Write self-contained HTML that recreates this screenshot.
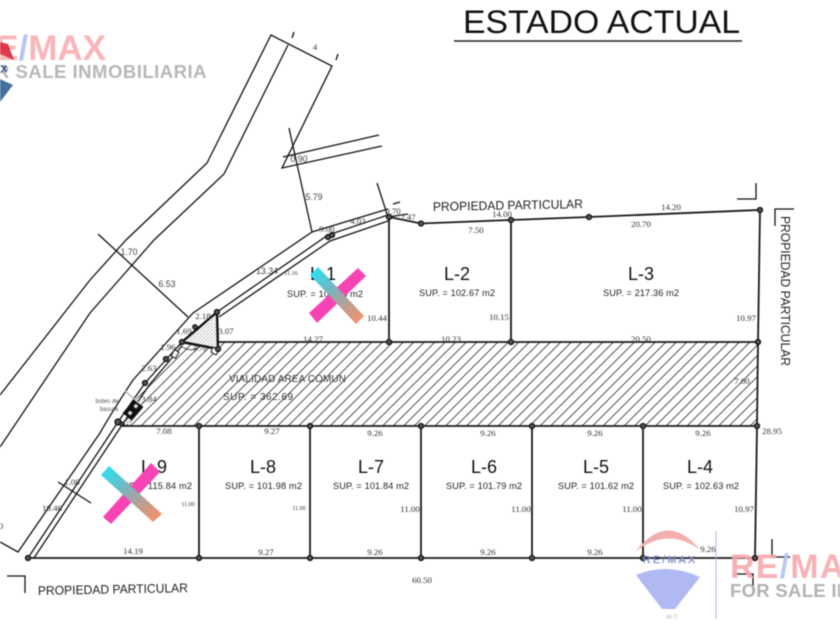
<!DOCTYPE html>
<html>
<head>
<meta charset="utf-8">
<style>
html,body{margin:0;padding:0;background:#fff;width:840px;height:630px;overflow:hidden}
svg{display:block;filter:blur(.4px)}
.l{fill:none;stroke:#111;stroke-width:1.3;stroke-linejoin:miter}
.b{fill:none;stroke:#1a1a1a;stroke-width:1.8}
.n{fill:#333;font:8.8px "Liberation Serif",serif;text-anchor:middle;dominant-baseline:central}
.m{fill:#444;font:8.8px "Liberation Sans",sans-serif;text-anchor:middle;dominant-baseline:central}
.big{fill:#111;font:18px "Liberation Sans",sans-serif;text-anchor:middle}
.sup{fill:#222;font:9.2px "Liberation Sans",sans-serif}
.pp{fill:#222;font:12.6px "Liberation Sans",sans-serif}
circle{fill:#555;stroke:#111;stroke-width:1.3}
</style>
</head>
<body>
<svg width="840" height="630" viewBox="0 0 840 630" xmlns="http://www.w3.org/2000/svg">
<defs>
<pattern id="h" width="10.5" height="10.5" patternUnits="userSpaceOnUse">
<path d="M-1 11.5L11.5 -1M-2 2L2 -2M8.5 12.5L12.5 8.5" stroke="#333" stroke-width=".8" fill="none"/>
</pattern>
<pattern id="h2" width="3.5" height="3.5" patternUnits="userSpaceOnUse">
<path d="M-1 4.5L4.5 -1" stroke="#aaa" stroke-width=".7" fill="none"/>
</pattern>
<linearGradient id="g1" gradientUnits="userSpaceOnUse" x1="314" y1="271" x2="360" y2="320">
<stop offset="0" stop-color="#2adff2"/><stop offset=".5" stop-color="#93a8ad"/><stop offset="1" stop-color="#f4926c"/>
</linearGradient>
<linearGradient id="g2" gradientUnits="userSpaceOnUse" x1="105" y1="470" x2="157" y2="518">
<stop offset="0" stop-color="#2adff2"/><stop offset=".5" stop-color="#93a8ad"/><stop offset="1" stop-color="#f4926c"/>
</linearGradient>
</defs>

<!-- title -->
<text x="463" y="33" font-family="Liberation Sans" font-size="32" fill="#111" textLength="277" lengthAdjust="spacingAndGlyphs">ESTADO ACTUAL</text>
<line x1="454" y1="41" x2="742" y2="41" stroke="#222" stroke-width="1.5"/>

<!-- hatch -->
<polygon points="217,342 758,342 757,426 122,426 145,383 182,342" fill="url(#h)"/>
<polygon points="182,342 217,312 218,349" fill="#fff"/>
<polygon points="182,342 217,312 218,349" fill="url(#h2)"/>

<!-- road -->
<path class="l" d="M0 395 L90 280 L126 240 L207 163 L271 35 L332 66 L282 168 L382 146"/>
<path class="l" d="M0 447 L90 313 L154 240 L224 174 L288 45"/>
<path class="l" d="M283 157 L379 135"/>
<path class="l" d="M289 128 L312 232"/>
<path class="l" d="M294 32 L292 38M338 54 L336 60"/>
<path class="l" d="M377 183 L388 217"/>
<path class="l" d="M0 542 L18 552 L100 433 Q112 412 133 380 L193 313 L312 232 L388 209"/>
<path class="l" d="M98 234 L188 317"/>
<path class="l" d="M58 482 L91 503"/>
<path class="l" d="M28 558 L118 422 L145 383 L182 342"/>
<path class="l" d="M34 558 L122 425 L150 384 L182 346"/>
<path class="l" d="M217 312 L328 235 L388 215"/>
<path class="l" d="M219 317 L330 241 L388 221"/>
<path class="l" d="M393 204 L400 202M388 217 L408 214"/>

<!-- lot lines -->
<path class="b" d="M389 217 L421 223.5 L511 220 L589 217 L760 210 L758 342 L757 426 L755 558 L28 558"/>
<path class="b" d="M217 342 H758M122 426 H757"/>
<path class="b" d="M389 217 V342M511 220 V342M199 426 V558M310 426 V558M421 426 V558M532 426 V558M643 426 V558"/>

<!-- triangle -->
<path d="M182 342 L217 312 L218 349 Z" fill="none" stroke="#111" stroke-width="2.4"/>
<path d="M182 342 L208 347" stroke="#111" stroke-width="2.4"/>
<path d="M180 345 Q190 354 201 346" fill="none" stroke="#222" stroke-width=".8"/>
<rect x="172.500" y="350.500" width="5" height="7" transform="rotate(30 175 354)" fill="#fff" stroke="#111" stroke-width="1"/>
<path d="M213 347 L219 350 L216 355 L211 352 Z" fill="#fff" stroke="#111"/>

<!-- bin -->
<g transform="rotate(-50 133 410)">
<rect x="124" y="404" width="18" height="12" fill="#111"/>
<rect x="127" y="408" width="3.500" height="3.500" fill="#ddd"/>
<rect x="136" y="408" width="3.500" height="3.500" fill="#ddd"/>
</g>
<line x1="125" y1="391" x2="140" y2="404" stroke="#bbb" stroke-width="1.500"/>

<!-- nodes -->
<g>
<circle cx="389" cy="217" r="2.500"/><circle cx="421" cy="223.500" r="2.500"/><circle cx="511" cy="220" r="2.500"/><circle cx="589" cy="217" r="2.500"/><circle cx="760" cy="210" r="2.500"/>
<circle cx="389" cy="342" r="2.500"/><circle cx="511" cy="342" r="2.500"/><circle cx="758" cy="342" r="2.500"/>
<circle cx="199" cy="426" r="2.500"/><circle cx="310" cy="426" r="2.500"/><circle cx="421" cy="426" r="2.500"/><circle cx="532" cy="426" r="2.500"/><circle cx="643" cy="426" r="2.500"/><circle cx="757" cy="426" r="2.500"/>
<circle cx="28" cy="558" r="2.500"/><circle cx="199" cy="558" r="2.500"/><circle cx="310" cy="558" r="2.500"/><circle cx="421" cy="558" r="2.500"/><circle cx="532" cy="558" r="2.500"/><circle cx="643" cy="558" r="2.500"/><circle cx="755" cy="558" r="2.500"/>
<circle cx="118" cy="422" r="3"/><circle cx="122" cy="424" r="2"/>
<circle cx="217" cy="312" r="2.500"/><circle cx="182" cy="342" r="2.500"/><circle cx="218" cy="349" r="2.500"/><circle cx="195" cy="327" r="2.200"/>
<circle cx="145" cy="383" r="2.500"/><circle cx="166" cy="359" r="2.500"/><circle cx="328" cy="237" r="2.500"/><circle cx="332" cy="235" r="2.500"/>
</g>

<!-- corner marks -->
<path class="l" d="M737 199 H756 V183"/>
<path class="l" d="M794 209 H775 V226"/>
<path class="l" d="M7 576 H25 V593"/>
<path class="l" d="M772 539 V557 H790"/>
<path class="l" d="M734 574 H753 V592"/>

<!-- property labels -->
<text class="pp" x="433" y="211" textLength="150" lengthAdjust="spacingAndGlyphs" transform="rotate(-1.100 433 211)">PROPIEDAD PARTICULAR</text>
<text class="pp" x="38" y="595" textLength="150" lengthAdjust="spacingAndGlyphs" transform="rotate(-1.100 38 595)">PROPIEDAD PARTICULAR</text>
<text class="pp" x="0" y="0" textLength="150" lengthAdjust="spacingAndGlyphs" transform="translate(781 216) rotate(90)">PROPIEDAD PARTICULAR</text>

<!-- lots -->
<text class="big" x="323" y="280">L-1</text>
<text class="big" x="457" y="280">L-2</text>
<text class="big" x="641" y="280">L-3</text>
<text class="big" x="154" y="473">L-9</text>
<text class="big" x="263" y="473">L-8</text>
<text class="big" x="371" y="473">L-7</text>
<text class="big" x="484" y="473">L-6</text>
<text class="big" x="596" y="473">L-5</text>
<text class="big" x="700" y="473">L-4</text>
<g xml:space="preserve">
<text class="sup" x="287" y="297" textLength="76">SUP.  =  106.35 m2</text>
<text class="sup" x="419" y="296" textLength="76">SUP.  =  102.67 m2</text>
<text class="sup" x="603" y="296" textLength="76">SUP.  =  217.36 m2</text>
<text class="sup" x="116" y="489" textLength="76">SUP.  =  115.84 m2</text>
<text class="sup" x="225" y="489" textLength="77">SUP.  =  101.98 m2</text>
<text class="sup" x="333" y="489" textLength="76">SUP.  =  101.84 m2</text>
<text class="sup" x="446" y="489" textLength="76">SUP.  =  101.79 m2</text>
<text class="sup" x="558" y="489" textLength="76">SUP.  =  101.62 m2</text>
<text class="sup" x="663" y="489" textLength="76">SUP.  =  102.63 m2</text>
<text x="229" y="382" font-family="Liberation Sans" font-size="10" fill="#333" textLength="117">VIALIDAD AREA COMUN</text>
<text x="223" y="400" font-family="Liberation Sans" font-size="10" fill="#333" textLength="70">SUP.  =  362.69</text>
</g>

<!-- dimensions -->
<g>
<text class="n" x="315" y="47">4</text><text class="m" x="299" y="159">0.90</text><text class="m" x="314" y="197">5.79</text>
<text class="n" x="327" y="229">9.00</text><text class="n" x="358" y="221">4.03</text><text class="n" x="393" y="211">0.70</text><text class="n" x="408" y="217">2.47</text>
<text class="n" x="502" y="214">14.00</text><text class="n" x="476" y="230">7.50</text><text class="n" x="671" y="207">14.20</text><text class="n" x="641" y="224">20.70</text>
<text class="n" x="377" y="318">10.44</text><text class="n" x="499" y="317">10.15</text><text class="n" x="746" y="318">10.97</text>
<text class="n" x="313" y="339">14.27</text><text class="n" x="451" y="339">10.23</text><text class="n" x="641" y="339">20.50</text>
<text class="n" x="742" y="381">7.00</text><text class="n" x="772" y="431">28.95</text>
<text class="m" x="267" y="271">13.34</text><text class="n" x="291" y="274" style="font-size:6px">11.16</text>
<text class="m" x="129" y="252">1.70</text><text class="m" x="167" y="284">6.53</text><text class="n" x="203" y="316">2.18</text><text class="n" x="184" y="331">1.69</text><text class="n" x="226" y="331">3.07</text>
<text class="n" x="168" y="347">1.96</text><text class="n" x="149" y="368">2.63</text><text class="n" x="149" y="399">3.84</text>
<text class="n" x="200" y="349" style="font-size:7px">0.70</text><text class="n" x="128" y="424" style="font-size:6px">.27</text>
<text class="n" x="164" y="431">7.08</text><text class="n" x="272" y="431">9.27</text><text class="n" x="375" y="433">9.26</text><text class="n" x="488" y="433">9.26</text><text class="n" x="595" y="433">9.26</text><text class="n" x="703" y="433">9.26</text>
<text class="n" x="133" y="551">14.19</text><text class="n" x="266" y="552">9.27</text><text class="n" x="375" y="552">9.26</text><text class="n" x="488" y="552">9.26</text><text class="n" x="595" y="552">9.26</text><text class="n" x="708" y="549">9.26</text>
<text class="n" x="422" y="580">60.50</text>
<text class="n" x="188" y="505" style="font-size:6px">11.00</text><text class="n" x="299" y="509" style="font-size:6px">11.00</text>
<text class="n" x="410" y="509">11.00</text><text class="n" x="521" y="509">11.00</text><text class="n" x="632" y="509">11.00</text><text class="n" x="744" y="509">10.97</text>
<text class="n" x="72" y="482">1.00</text><text class="n" x="52" y="508">10.46</text><text class="n" x="1" y="526">0</text>
<text x="107" y="403" font-family="Liberation Sans" font-size="6" fill="#555" text-anchor="middle">botes de</text>
<text x="109" y="411" font-family="Liberation Sans" font-size="6" fill="#555" text-anchor="middle">basura</text>
</g>

<!-- crossed marks -->
<polygon points="309,313 317,323 366,276 358,268" fill="#f743b4"/>
<polygon points="310,275 318,267 364,316 356,324" fill="url(#g1)"/>
<polygon points="103,517 111,524 160,472 151,463" fill="#f743b4"/>
<polygon points="101,475 109,466 162,514 153,522" fill="url(#g2)"/>

<!-- top-left logo -->
<text x="106" y="60" font-family="Liberation Sans" font-size="35" font-weight="bold" fill="#f9b6ba" text-anchor="end"><tspan>RE</tspan><tspan fill="#b9c6f2">/</tspan><tspan>MAX</tspan></text>
<polygon points="0,42 8,44 14,60 0,54" fill="#d9273a" opacity=".9"/>
<text x="207" y="78" font-family="Liberation Sans" font-size="18.500" font-weight="bold" fill="#b7b7b7" text-anchor="end" letter-spacing=".5">FOR SALE INMOBILIARIA</text>
<polygon points="0,79 13,85 0,102" fill="#44709f"/>
<text x="4" y="72" font-family="Liberation Sans" font-size="9" font-weight="bold" fill="#123c78" text-anchor="middle">X</text>

<!-- bottom-right logo -->
<g>
<path d="M635 552 Q668 510 700 550 Q668 526 635 552 Z" fill="#f3aeae"/>
<path d="M636 575 Q667 562 700 577 L675 609 L662 609 Z" fill="#b1b9f3"/>
<text x="669" y="563" font-family="Liberation Sans" font-size="10.500" fill="#7a86c8" stroke="#7a86c8" stroke-width=".3" text-anchor="middle" textLength="52">RE/MAX</text>
<text x="672" y="619" font-family="Liberation Sans" font-size="6" fill="#bbb" text-anchor="middle">W ©</text>
<line x1="716" y1="531" x2="716" y2="619" stroke="#a9b9d9" stroke-width="1"/>
<text x="730" y="578" font-family="Liberation Sans" font-size="34" font-weight="bold" fill="#f7a9ad" fill-opacity=".9" letter-spacing="1.200">RE<tspan fill="#b5c3f2">/</tspan>MAX</text>
<text x="730" y="597" font-family="Liberation Sans" font-size="18.500" font-weight="bold" fill="#b2b2b2" letter-spacing=".3">FOR SALE INMOBILIARIA</text>
</g>
</svg>
</body>
</html>
